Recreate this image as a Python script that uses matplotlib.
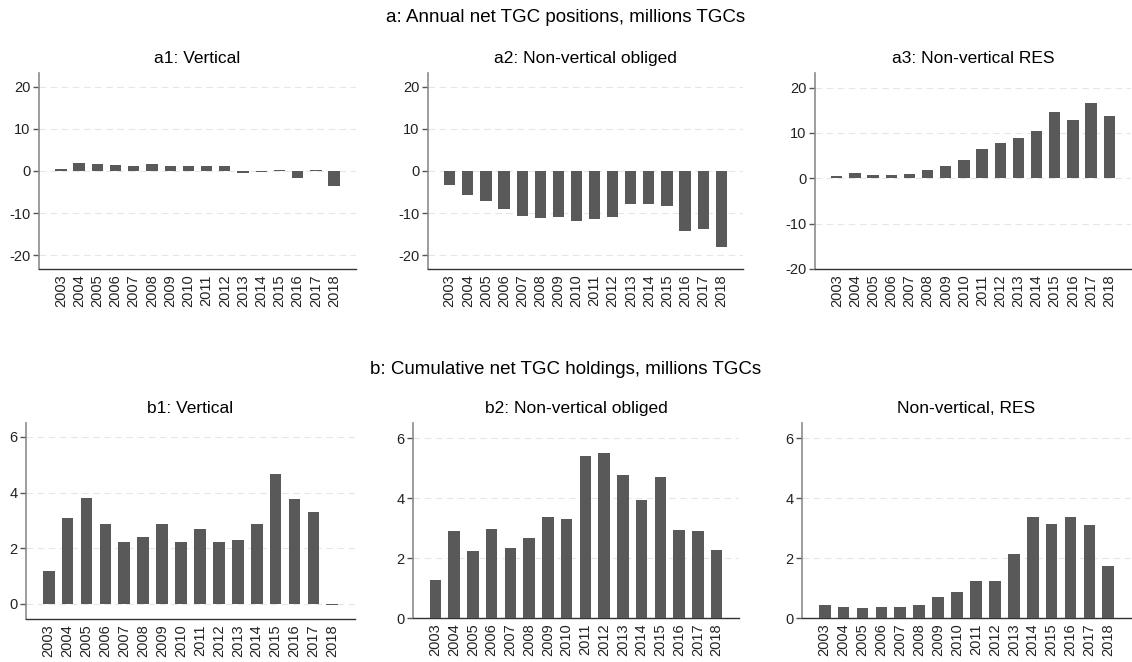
import matplotlib
matplotlib.use('Agg')
import matplotlib.pyplot as plt
import numpy as np

plt.rcParams['font.family'] = ['Liberation Sans', 'DejaVu Sans']
plt.rcParams['axes.unicode_minus'] = False

years = list(range(2003, 2019))

# annual net TGC positions, millions
a1_vertical = [0.5, 2.0, 1.6, 1.5, 1.2, 1.6, 1.3, 1.2, 1.3, 1.2, -0.4, -0.3, 0.3, -1.7, 0.3, -3.6]
a2_nonvert_obliged = [-3.2, -5.6, -7.2, -9.0, -10.6, -11.1, -11.0, -11.8, -11.3, -11.0, -7.9, -7.9, -8.2, -14.3, -13.7, -18.1]
a3_nonvert_res = [0.4, 1.1, 0.8, 0.8, 1.0, 1.8, 2.6, 4.1, 6.4, 7.8, 8.8, 10.4, 14.5, 12.9, 16.5, 13.7]

# cumulative net TGC holdings, millions
b1_vertical = [1.18, 3.08, 3.81, 2.87, 2.22, 2.40, 2.89, 2.24, 2.69, 2.22, 2.28, 2.87, 4.67, 3.76, 3.29, -0.05]
b2_nonvert_obliged = [1.27, 2.89, 2.22, 2.97, 2.34, 2.66, 3.38, 3.29, 5.39, 5.51, 4.78, 3.92, 4.70, 2.93, 2.90, 2.28]
b3_nonvert_res = [0.44, 0.38, 0.33, 0.37, 0.37, 0.42, 0.69, 0.87, 1.24, 1.24, 2.13, 3.38, 3.14, 3.38, 3.11, 1.74]

W, H = 1132, 662
fig = plt.figure(figsize=(W / 100, H / 100), dpi=100)

bar_color = '#595959'


def px_axes(x0, x1, y0, y1):
    # pixel box -> figure fraction
    return fig.add_axes([x0 / W, 1 - y1 / H, (x1 - x0) / W, (y1 - y0) / H])


panels = [
    ('a1: Vertical', a1_vertical, (39, 356, 73, 269), (-23.2, 23.2), [-20, -10, 0, 10, 20]),
    ('a2: Non-vertical obliged', a2_nonvert_obliged, (428, 743, 73, 269), (-23.2, 23.2), [-20, -10, 0, 10, 20]),
    ('a3: Non-vertical RES', a3_nonvert_res, (815, 1131, 73, 269), (-20, 23.2), [-20, -10, 0, 10, 20]),
    ('b1: Vertical', b1_vertical, (26, 355, 423, 619), (-0.54, 6.5), [0, 2, 4, 6]),
    ('b2: Non-vertical obliged', b2_nonvert_obliged, (413, 739, 423, 618), (0, 6.5), [0, 2, 4, 6]),
    ('Non-vertical, RES', b3_nonvert_res, (802, 1131, 423, 618), (0, 6.5), [0, 2, 4, 6]),
]

for title, vals, box, ylim, yticks in panels:
    ax = px_axes(*box)
    ax.bar(years, vals, width=0.62, color=bar_color, zorder=3)
    ax.set_xlim(2003 - 1.2, 2018 + 1.2)
    ax.set_ylim(*ylim)
    ax.set_yticks(yticks)
    ax.set_xticks(years)
    ax.set_xticklabels([str(y) for y in years], rotation=90, fontsize=10.5, color='#222222')
    ax.tick_params(axis='x', length=0, pad=4)
    ax.tick_params(axis='y', length=4, width=1, color='#555555', labelsize=10.5, labelcolor='#222222', pad=2)
    ax.grid(axis='y', linestyle=(0, (6, 4)), color='#e6e6e6', linewidth=0.8, zorder=0)
    for s in ['top', 'right']:
        ax.spines[s].set_visible(False)
    ax.spines['left'].set_color('#8c8c8c')
    ax.spines['left'].set_linewidth(1.2)
    ax.spines['bottom'].set_color('#333333')
    ax.spines['bottom'].set_linewidth(1.0)
    ax.set_title(title, fontsize=12.5, pad=7)

fig.text(0.5, 1 - 18 / H, 'a: Annual net TGC positions, millions TGCs', ha='center', va='center', fontsize=13.5)
fig.text(0.5, 1 - 370 / H, 'b: Cumulative net TGC holdings, millions TGCs', ha='center', va='center', fontsize=13.5)

fig.savefig('out.png', dpi=100)
